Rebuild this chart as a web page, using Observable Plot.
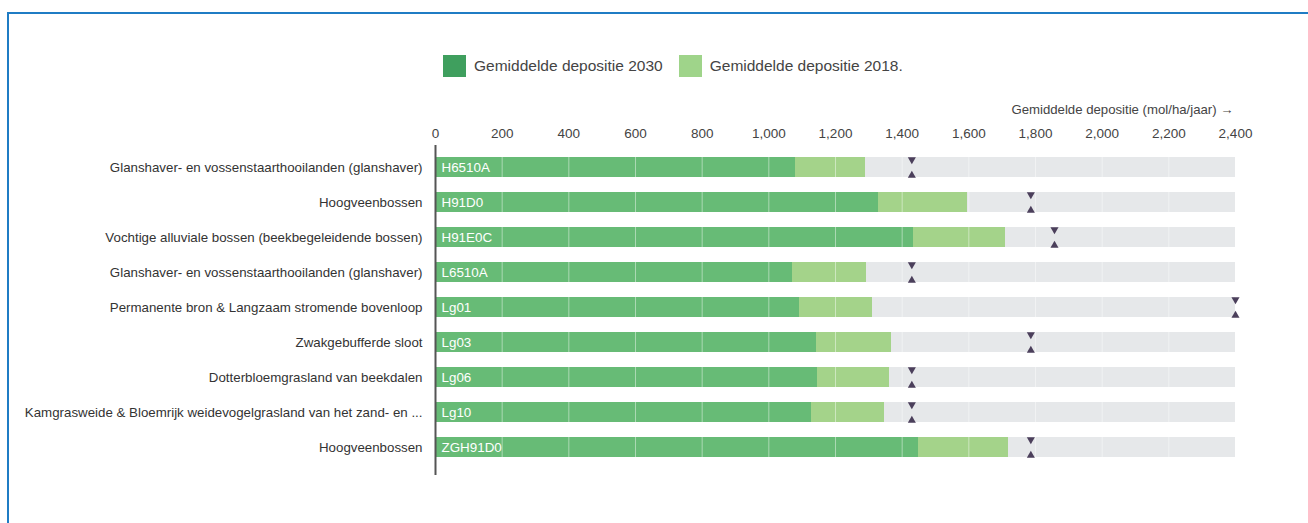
<!DOCTYPE html>
<html>
<head>
<meta charset="utf-8">
<script src="https://cdn.jsdelivr.net/npm/d3@7"></script>
<script src="https://cdn.jsdelivr.net/npm/@observablehq/plot@0.6"></script>
<style>
  html, body { margin: 0; padding: 0; background: #fff; }
  body { width: 1308px; height: 523px; position: relative; overflow: hidden; font-family: "Liberation Sans", Arial, sans-serif; }
  #frame { position: absolute; left: 7px; top: 12px; right: 0; bottom: -5px; border-top: 2px solid #1f7cc4; border-left: 2px solid #1f7cc4; }
  #legend { position: absolute; top: 55px; left: 443px; display: flex; align-items: center; font-size: 15.5px; color: #444; }
  .sw { width: 23px; height: 22px; display: inline-block; margin-right: 8px; }
  .item { display: flex; align-items: center; margin-right: 16px; }
  #chart { position: absolute; left: 0; top: 90px; }
</style>
</head>
<body>
<div id="frame"></div>
<div id="legend"></div>
<div id="chart"></div>
<script>
const codes = ["H6510A", "H91D0", "H91E0C", "L6510A", "Lg01", "Lg03", "Lg06", "Lg10", "ZGH91D0"];
const names = [
  "Glanshaver- en vossenstaarthooilanden (glanshaver)",
  "Hoogveenbossen",
  "Vochtige alluviale bossen (beekbegeleidende bossen)",
  "Glanshaver- en vossenstaarthooilanden (glanshaver)",
  "Permanente bron & Langzaam stromende bovenloop",
  "Zwakgebufferde sloot",
  "Dotterbloemgrasland van beekdalen",
  "Kamgrasweide & Bloemrijk weidevogelgrasland van het zand- en ...",
  "Hoogveenbossen"
];
const dep2030 = [1080, 1329, 1434, 1071, 1092, 1143, 1146, 1128, 1449];
const dep2018 = [1290, 1596, 1710, 1293, 1311, 1368, 1362, 1347, 1719];
const kdw = [1429, 1786, 1857, 1429, 2400, 1786, 1429, 1429, 1786];
const axisMax = 2400;
const xTicks = [0, 200, 400, 600, 800, 1000, 1200, 1400, 1600, 1800, 2000, 2200, 2400];
const seriesNames = ["Gemiddelde depositie 2030", "Gemiddelde depositie 2018."];
const axisLabel = "Gemiddelde depositie (mol/ha/jaar) →";

const colDark = "#67bb76";
const colLight = "#a4d38a";
const colBg = "#e6e8ea";
const legendColors = ["#3f9f5e", "#9fd48a"];

const rows = codes.map((c, i) => ({code: c, name: names[i], d2030: dep2030[i], d2018: dep2018[i], kdw: kdw[i], max: axisMax}));
const nameOf = Object.fromEntries(rows.map(r => [r.code, r.name]));

// legend
const leg = document.getElementById("legend");
seriesNames.forEach((s, i) => {
  const it = document.createElement("div");
  it.className = "item";
  it.innerHTML = `<span class="sw" style="background:${legendColors[i]}"></span><span>${s}</span>`;
  leg.appendChild(it);
});

const chart = Plot.plot({
  width: 1308,
  height: 400,
  marginLeft: 435,
  marginRight: 73,
  marginTop: 57,
  marginBottom: 22,
  style: {fontFamily: "'Liberation Sans', Arial, sans-serif", fontSize: "13px", color: "#333", background: "transparent"},
  x: {domain: [0, axisMax], axis: null},
  y: {domain: codes, paddingInner: 0.42, paddingOuter: 0.21, axis: null},
  marks: [
    Plot.barX(rows, {x1: 0, x2: "max", y: "code", fill: colBg}),
    Plot.barX(rows, {x1: 0, x2: "d2018", y: "code", fill: colLight}),
    Plot.barX(rows, {x1: 0, x2: "d2030", y: "code", fill: colDark}),
    Plot.ruleX(xTicks.slice(1, -1), {stroke: "#ffffff", strokeOpacity: 0.45, strokeWidth: 1}),
    Plot.text(rows, {x: 0, y: "code", text: "code", dx: 6, textAnchor: "start", fill: "#ffffff", fontSize: 13.4}),
    Plot.dot(rows, {x: "kdw", y: "code", symbol: "triangle", rotate: 180, dy: -8, r: 3, fill: "#4b3f5b", stroke: null}),
    Plot.dot(rows, {x: "kdw", y: "code", symbol: "triangle", dy: 8, r: 3, fill: "#4b3f5b", stroke: null}),
    Plot.ruleX([0], {stroke: "#555", strokeWidth: 2, insetTop: -2, insetBottom: -7}),
    Plot.axisX({anchor: "top", ticks: xTicks, tickSize: 0, tickPadding: 10, tickFormat: d3.format(","), label: null, fontSize: 13.5, fill: "#444"}),
    Plot.axisY({anchor: "left", tickSize: 0, tickPadding: 13, tickFormat: c => nameOf[c], label: null, fontSize: 13.3, fill: "#333"}),
    Plot.text([axisLabel], {frameAnchor: "top-right", dy: -43, dx: -2, textAnchor: "end", fontSize: 13.2, fill: "#444"})
  ]
});
document.getElementById("chart").appendChild(chart);
</script>
</body>
</html>
